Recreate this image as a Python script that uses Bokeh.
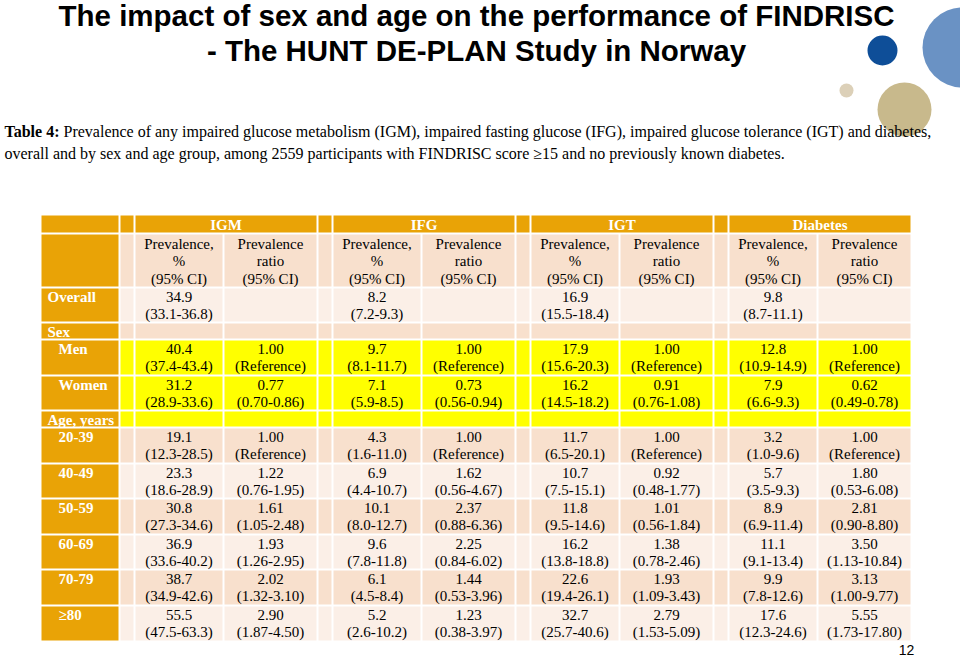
from bokeh.plotting import figure
from bokeh.models import Range1d, ColumnDataSource
from bokeh.core.properties import value
from bokeh.embed import file_html
from bokeh.resources import INLINE

# ---------------- data ----------------
title_lines = ["The impact of sex and age on the performance of FINDRISC",
               "- The HUNT DE-PLAN Study in Norway"]
caption_bold = "Table 4:"
caption_1 = ("Prevalence of any impaired glucose metabolism (IGM), impaired fasting glucose (IFG), "
             "impaired glucose tolerance (IGT) and diabetes,")
caption_2 = "overall and by sex and age group, among 2559 participants with FINDRISC score \u226515 and no previously known diabetes."

groups = ["IGM", "IFG", "IGT", "Diabetes"]
sub_prev = ["Prevalence,", "%", "(95% CI)"]
sub_ratio = ["Prevalence", "ratio", "(95% CI)"]

row_labels = ["Overall", "Sex", "Men", "Women", "Age, years",
              "20-39", "40-49", "50-59", "60-69", "70-79", "\u226580"]
row_indent = [0, 0, 1, 1, 0, 1, 1, 1, 1, 1, 1]
row_kind = ["light", "peach", "yellow", "yellow", "yellow",
            "peach", "light", "peach", "light", "peach", "light"]

igm_prev = ["34.9", "", "40.4", "31.2", "", "19.1", "23.3", "30.8", "36.9", "38.7", "55.5"]
igm_prev_ci = ["(33.1-36.8)", "", "(37.4-43.4)", "(28.9-33.6)", "", "(12.3-28.5)", "(18.6-28.9)",
               "(27.3-34.6)", "(33.6-40.2)", "(34.9-42.6)", "(47.5-63.3)"]
igm_ratio = ["", "", "1.00", "0.77", "", "1.00", "1.22", "1.61", "1.93", "2.02", "2.90"]
igm_ratio_ci = ["", "", "(Reference)", "(0.70-0.86)", "", "(Reference)", "(0.76-1.95)",
                "(1.05-2.48)", "(1.26-2.95)", "(1.32-3.10)", "(1.87-4.50)"]

ifg_prev = ["8.2", "", "9.7", "7.1", "", "4.3", "6.9", "10.1", "9.6", "6.1", "5.2"]
ifg_prev_ci = ["(7.2-9.3)", "", "(8.1-11.7)", "(5.9-8.5)", "", "(1.6-11.0)", "(4.4-10.7)",
               "(8.0-12.7)", "(7.8-11.8)", "(4.5-8.4)", "(2.6-10.2)"]
ifg_ratio = ["", "", "1.00", "0.73", "", "1.00", "1.62", "2.37", "2.25", "1.44", "1.23"]
ifg_ratio_ci = ["", "", "(Reference)", "(0.56-0.94)", "", "(Reference)", "(0.56-4.67)",
                "(0.88-6.36)", "(0.84-6.02)", "(0.53-3.96)", "(0.38-3.97)"]

igt_prev = ["16.9", "", "17.9", "16.2", "", "11.7", "10.7", "11.8", "16.2", "22.6", "32.7"]
igt_prev_ci = ["(15.5-18.4)", "", "(15.6-20.3)", "(14.5-18.2)", "", "(6.5-20.1)", "(7.5-15.1)",
               "(9.5-14.6)", "(13.8-18.8)", "(19.4-26.1)", "(25.7-40.6)"]
igt_ratio = ["", "", "1.00", "0.91", "", "1.00", "0.92", "1.01", "1.38", "1.93", "2.79"]
igt_ratio_ci = ["", "", "(Reference)", "(0.76-1.08)", "", "(Reference)", "(0.48-1.77)",
                "(0.56-1.84)", "(0.78-2.46)", "(1.09-3.43)", "(1.53-5.09)"]

dia_prev = ["9.8", "", "12.8", "7.9", "", "3.2", "5.7", "8.9", "11.1", "9.9", "17.6"]
dia_prev_ci = ["(8.7-11.1)", "", "(10.9-14.9)", "(6.6-9.3)", "", "(1.0-9.6)", "(3.5-9.3)",
               "(6.9-11.4)", "(9.1-13.4)", "(7.8-12.6)", "(12.3-24.6)"]
dia_ratio = ["", "", "1.00", "0.62", "", "1.00", "1.80", "2.81", "3.50", "3.13", "5.55"]
dia_ratio_ci = ["", "", "(Reference)", "(0.49-0.78)", "", "(Reference)", "(0.53-6.08)",
                "(0.90-8.80)", "(1.13-10.84)", "(1.00-9.77)", "(1.73-17.80)"]

page_number = "12"

# ---------------- style / layout ----------------
ORANGE = "#E9A306"
PEACH = "#F8E0CD"
LIGHT = "#FBEFE7"
YELLOW = "#FFFF00"
kind_color = {"peach": PEACH, "light": LIGHT, "yellow": YELLOW}
SERIF = value("Liberation Serif")
FS = "15px"

W, H = 960, 658
p = figure(width=W, height=H, output_backend="svg", toolbar_location=None,
           x_range=Range1d(0, W), y_range=Range1d(H, 0),
           min_border=0, background_fill_color="white", border_fill_color="white")
p.axis.visible = False
p.grid.visible = False
p.outline_line_color = None

# decorative circles
p.circle(x=[962, 882, 846, 904], y=[47, 50, 90, 109], radius=[40, 15, 7, 27],
         color=["#6A92C4", "#0E4E98", "#DCD0B8", "#C8B98C"], line_color=None)

# title
p.text(x=[476, 476], y=[15, 50], text=title_lines, text_align="center", text_baseline="middle",
       text_font=value("Liberation Sans"), text_font_style="bold", text_font_size="29.5px",
       text_color="black")

# caption
p.text(x=[4], y=[131], text=[caption_bold], text_align="left", text_baseline="middle",
       text_font=SERIF, text_font_style="bold", text_font_size="16px", text_color="black")
p.text(x=[63, 4], y=[131, 153], text=[caption_1, caption_2], text_align="left",
       text_baseline="middle", text_font=SERIF, text_font_size="16px", text_color="black")

# table geometry
LAB = (41, 118)
cols = []  # per group: spacer, prev, ratio
for g in range(len(groups)):
    base = 118 + g * 198
    cols.append(((base + 2, base + 15), (base + 17, base + 104), (base + 106, base + 198)))

H1 = (215, 232)
H2 = (234, 286)
tops = [288, 323, 340, 376, 411, 428, 464, 499, 535, 570, 606]
bots = [321, 338, 374, 409, 426, 462, 497, 533, 568, 604, 640]

ql, qr, qt, qb, qc = [], [], [], [], []

def add(l, r, t, b, c):
    ql.append(l); qr.append(r); qt.append(t); qb.append(b); qc.append(c)

# header row 1
add(LAB[0], LAB[1], H1[0], H1[1], ORANGE)
for sp, pc, rc in cols:
    add(sp[0], sp[1], H1[0], H1[1], ORANGE)
    add(pc[0], rc[1], H1[0], H1[1], ORANGE)
# header row 2
add(LAB[0], LAB[1], H2[0], H2[1], ORANGE)
for sp, pc, rc in cols:
    for c in (sp, pc, rc):
        add(c[0], c[1], H2[0], H2[1], PEACH)
# body
for i in range(len(row_labels)):
    add(LAB[0], LAB[1], tops[i], bots[i], ORANGE)
    for sp, pc, rc in cols:
        for c in (sp, pc, rc):
            add(c[0], c[1], tops[i], bots[i], kind_color[row_kind[i]])

p.quad(left=ql, right=qr, top=qt, bottom=qb, fill_color=qc, line_color=None)

# group headers
gx = [(pc[0] + rc[1]) / 2 for sp, pc, rc in cols]
p.text(x=gx, y=[224] * len(groups), text=groups, text_align="center", text_baseline="middle",
       text_font=SERIF, text_font_style="bold", text_font_size=FS, text_color="white")

# sub headers
sx, sy, st = [], [], []
for sp, pc, rc in cols:
    for k in range(3):
        sx += [(pc[0] + pc[1]) / 2, (rc[0] + rc[1]) / 2]
        sy += [H2[0] + 9 + 17.5 * k] * 2
        st += [sub_prev[k], sub_ratio[k]]
p.text(x=sx, y=sy, text=st, text_align="center", text_baseline="middle",
       text_font=SERIF, text_font_size=FS, text_color="black")

# row labels
p.text(x=[47 + 11 * ind for ind in row_indent], y=[t + 8 for t in tops], text=row_labels,
       text_align="left", text_baseline="middle", text_font=SERIF, text_font_style="bold",
       text_font_size=FS, text_color="white")

# cells
series = [(igm_prev, igm_prev_ci, igm_ratio, igm_ratio_ci),
          (ifg_prev, ifg_prev_ci, ifg_ratio, ifg_ratio_ci),
          (igt_prev, igt_prev_ci, igt_ratio, igt_ratio_ci),
          (dia_prev, dia_prev_ci, dia_ratio, dia_ratio_ci)]
cx, cy, ct = [], [], []
for (sp, pc, rc), (pv, pci, rv, rci) in zip(cols, series):
    xp = (pc[0] + pc[1]) / 2
    xr = (rc[0] + rc[1]) / 2
    for i in range(len(row_labels)):
        for x, v1, v2 in ((xp, pv[i], pci[i]), (xr, rv[i], rci[i])):
            if v1:
                cx += [x, x]
                cy += [tops[i] + 8.5, tops[i] + 25.5]
                ct += [v1, v2]
src = ColumnDataSource(dict(x=cx, y=cy, text=ct))
p.text(x="x", y="y", text="text", source=src, text_align="center", text_baseline="middle",
       text_font=SERIF, text_font_size=FS, text_color="black")

# page number
p.text(x=[906], y=[649], text=[page_number], text_align="center", text_baseline="middle",
       text_font=value("Liberation Sans"), text_font_size="14px", text_color="black")

open("out.html", "w").write(file_html(p, INLINE))
